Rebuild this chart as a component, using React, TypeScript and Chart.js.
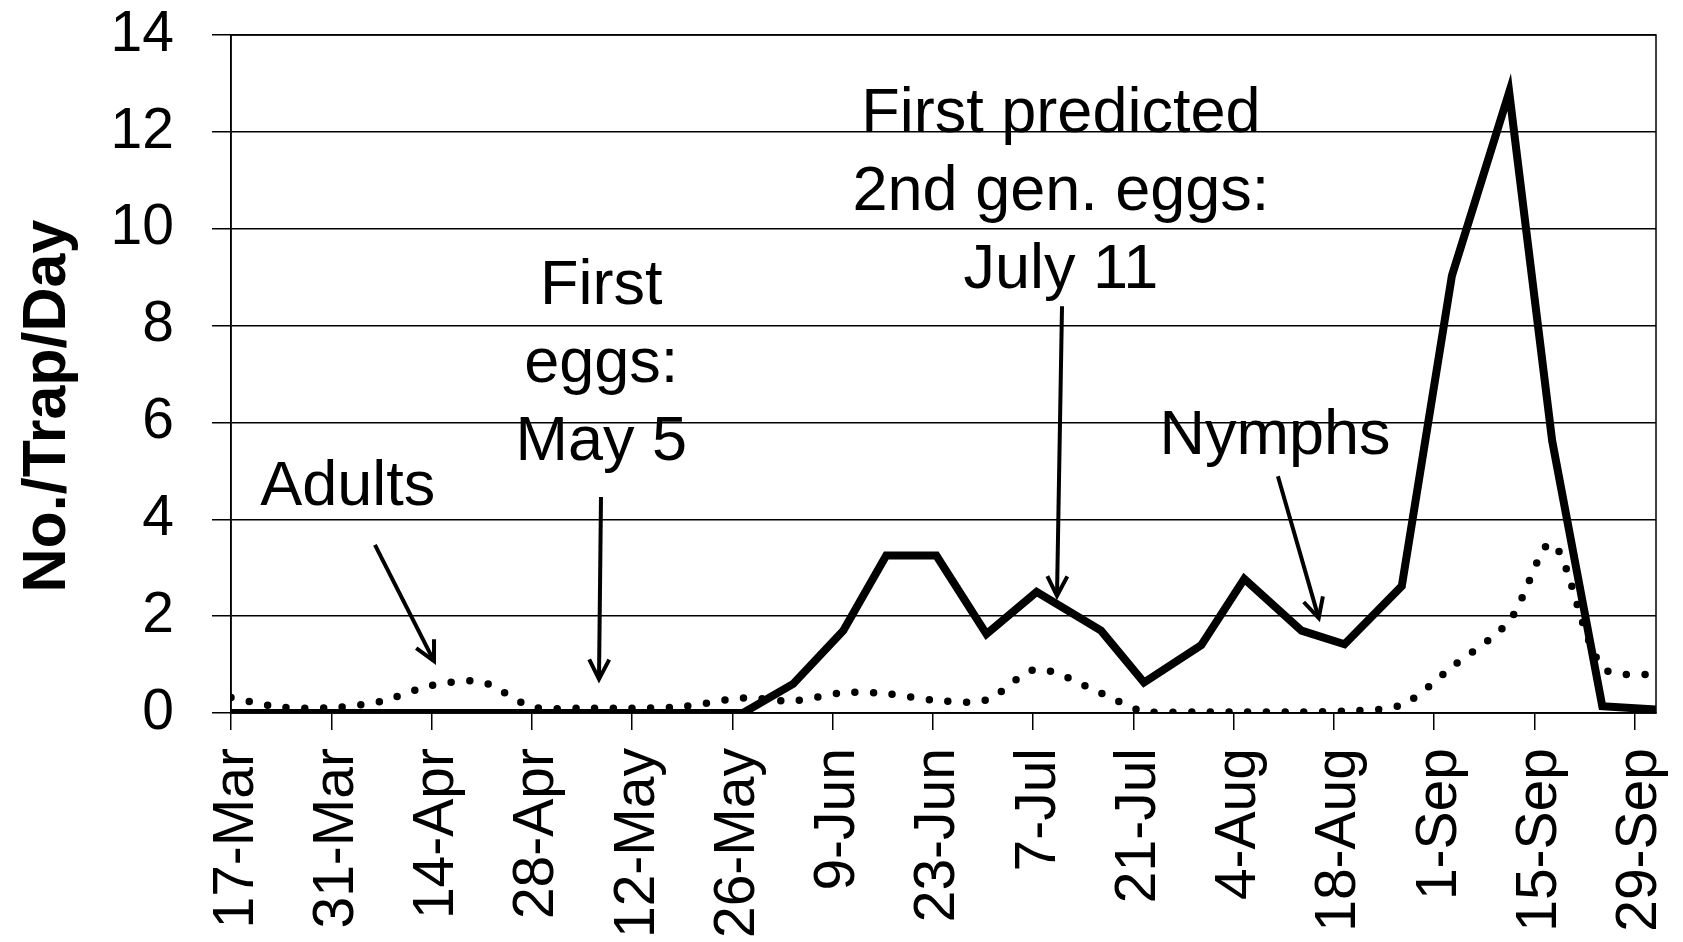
import React, { useEffect, useRef } from "react";
import { Chart, registerables } from "chart.js";

Chart.register(...registerables);

// ---- data ----
const xTickLabels = [
  "17-Mar", "31-Mar", "14-Apr", "28-Apr", "12-May", "26-May", "9-Jun", "23-Jun",
  "7-Jul", "21-Jul", "4-Aug", "18-Aug", "1-Sep", "15-Sep", "29-Sep",
];
const tickIntervalDays = 14;
const axisEndDay = 199; // days after 17-Mar
const yMax = 14;
const yStep = 2;

// sample dates, as days after 17-Mar
const sampleDays = [
  0, 7, 14, 21, 28, 35, 42, 49, 56, 63, 71.5, 78.5, 85.5, 91.5, 98.5, 105.5,
  112.5, 121.5, 127.5, 135.5, 141.5, 149.5, 155.5, 163.5, 170.5, 178.5, 184.5,
  191.5, 199,
];
const nymphs = [
  0, 0, 0, 0, 0, 0, 0, 0, 0, 0, 0, 0.6, 1.7, 3.25, 3.25, 1.63, 2.5, 1.7, 0.63,
  1.4, 2.77, 1.7, 1.42, 2.62, 9.03, 12.82, 5.62, 0.14, 0.07,
];
const adults = [
  0.32, 0.12, 0.11, 0.24, 0.57, 0.64, 0.13, 0.1, 0.1, 0.13, 0.31, 0.25, 0.42,
  0.4, 0.26, 0.27, 0.9, 0.41, 0.03, 0.02, 0.02, 0.02, 0.04, 0.17, 0.95, 1.9,
  3.5, 0.95, 0.78,
];

const yTitle = "No./Trap/Day";

// annotation texts (anchor in data coords: day, value of first baseline)
const notes = [
  { lines: ["Adults"], day: 16.3, value: 4.3 },
  { lines: ["First", "eggs:", "May 5"], day: 51.7, value: 8.445 },
  { lines: ["First predicted", "2nd gen. eggs:", "July 11"], day: 115.9, value: 12.0 },
  { lines: ["Nymphs"], day: 145.8, value: 5.35 },
];
const arrows = [
  { from: [20.1, 3.47], to: [28.35, 1.07] },
  { from: [51.67, 4.46], to: [51.39, 0.7] },
  { from: [116.05, 8.4], to: [115.35, 2.42] },
  { from: [146.2, 4.89], to: [151.9, 1.96] },
];

const FONT = '"Liberation Sans", Arial, Helvetica, sans-serif';

const overlay = {
  id: "overlay",
  beforeDatasetsDraw(chart: any) {
    const { ctx, chartArea: a } = chart;
    ctx.save();
    ctx.strokeStyle = "#000";
    ctx.lineWidth = 1.5;
    ctx.strokeRect(a.left, a.top, a.right - a.left, a.bottom - a.top);
    ctx.restore();
  },
  afterDatasetsDraw(chart: any) {
    const { ctx } = chart;
    const xs = chart.scales.x;
    const ys = chart.scales.y;
    ctx.save();
    ctx.fillStyle = "#000";
    ctx.font = `63px ${FONT}`;
    ctx.textAlign = "center";
    ctx.textBaseline = "alphabetic";
    const lineGap = 78;
    notes.forEach((n) => {
      const px = xs.getPixelForValue(n.day);
      const py = ys.getPixelForValue(n.value);
      n.lines.forEach((l, i) => ctx.fillText(l, px, py + i * lineGap));
    });

    ctx.strokeStyle = "#000";
    ctx.lineWidth = 4;
    ctx.lineCap = "butt";
    ctx.lineJoin = "miter";
    arrows.forEach((ar) => {
      const x1 = xs.getPixelForValue(ar.from[0]);
      const y1 = ys.getPixelForValue(ar.from[1]);
      const x2 = xs.getPixelForValue(ar.to[0]);
      const y2 = ys.getPixelForValue(ar.to[1]);
      ctx.beginPath();
      ctx.moveTo(x1, y1);
      ctx.lineTo(x2, y2);
      ctx.stroke();
      const ang = Math.atan2(y1 - y2, x1 - x2);
      const len = 22;
      const spread = (27 * Math.PI) / 180;
      ctx.beginPath();
      ctx.moveTo(x2 + len * Math.cos(ang - spread), y2 + len * Math.sin(ang - spread));
      ctx.lineTo(x2, y2);
      ctx.lineTo(x2 + len * Math.cos(ang + spread), y2 + len * Math.sin(ang + spread));
      ctx.stroke();
    });

    ctx.font = `bold 61px ${FONT}`;
    ctx.textAlign = "center";
    ctx.textBaseline = "middle";
    ctx.translate(48, 406);
    ctx.rotate(-Math.PI / 2);
    ctx.fillText(yTitle, 0, 0);
    ctx.restore();
  },
};

export default function App() {
  const ref = useRef<HTMLCanvasElement | null>(null);

  useEffect(() => {
    if (!ref.current) return;
    const chart = new Chart(ref.current, {
      type: "line",
      data: {
        datasets: [
          {
            label: "Nymphs",
            data: sampleDays.map((d, i) => ({ x: d, y: nymphs[i] })),
            borderColor: "#000",
            borderWidth: 8,
            pointRadius: 0,
            tension: 0,
            borderJoinStyle: "miter",
            borderCapStyle: "butt",
            fill: false,
          },
          {
            label: "Adults",
            data: sampleDays.map((d, i) => ({ x: d, y: adults[i] })),
            borderColor: "#000",
            borderWidth: 7.5,
            borderDash: [0, 18.7],
            borderCapStyle: "round",
            pointRadius: 0,
            tension: 0.3,
            fill: false,
          },
        ],
      },
      options: {
        responsive: false,
        animation: false,
        devicePixelRatio: 1,
        layout: { padding: { left: 0, right: 27, top: 35, bottom: 0 } },
        plugins: { legend: { display: false }, tooltip: { enabled: false } },
        scales: {
          x: {
            type: "linear",
            min: 0,
            max: axisEndDay,
            afterBuildTicks: (s: any) => {
              s.ticks = xTickLabels.map((_, i) => ({ value: i * tickIntervalDays }));
            },
            afterFit: (s: any) => {
              s.height = 229;
              s.paddingLeft = 0;
              s.paddingRight = 0;
            },
            ticks: {
              autoSkip: false,
              maxRotation: 90,
              minRotation: 90,
              padding: 18,
              labelOffset: 6,
              color: "#000",
              font: { family: FONT, size: 57 },
              callback: (v: any) => xTickLabels[Math.round(Number(v) / tickIntervalDays)] ?? "",
            },
            grid: { drawOnChartArea: false, drawTicks: true, tickLength: 17, color: "#000", lineWidth: 1.5 },
            border: { display: true, color: "#000", width: 1.5 },
          },
          y: {
            min: 0,
            max: yMax,
            afterFit: (s: any) => {
              s.width = 231;
              s.paddingTop = 0;
              s.paddingBottom = 0;
            },
            ticks: { stepSize: yStep, padding: 38, color: "#000", font: { family: FONT, size: 57 } },
            grid: { color: "#000", lineWidth: 1.5, tickLength: 19 },
            border: { display: true, color: "#000", width: 1.5 },
          },
        },
      } as any,
      plugins: [overlay],
    });
    return () => chart.destroy();
  }, []);

  return (
    <div style={{ position: "fixed", left: 0, top: 0, width: 1683, height: 942, background: "#fff" }}>
      <canvas ref={ref} width={1683} height={942} style={{ display: "block" }} />
    </div>
  );
}
